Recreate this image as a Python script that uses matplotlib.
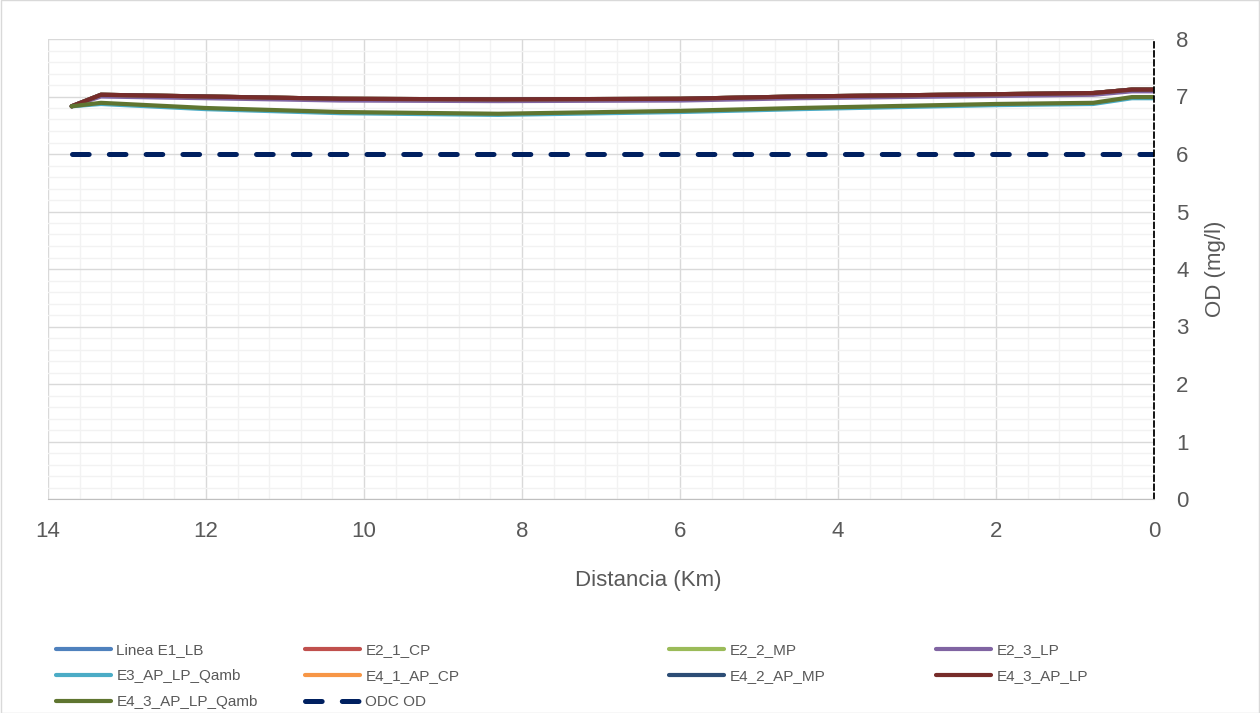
import matplotlib
matplotlib.use('Agg')
import matplotlib.pyplot as plt
import numpy as np
from matplotlib.ticker import MultipleLocator
from matplotlib.patches import Rectangle

plt.rcParams['font.family'] = ['Liberation Sans', 'DejaVu Sans']
plt.rcParams['lines.scale_dashes'] = False

# distance along the river (Km) and dissolved oxygen (mg/l)
dist = [13.7, 13.33, 12.0, 10.3, 8.3, 6.0, 4.5, 2.0, 0.77, 0.28, 0.0]
od_upper = [6.83, 7.03, 7.00, 6.96, 6.95, 6.96, 7.00, 7.04, 7.06, 7.12, 7.12]
od_lp = [6.83, 7.00, 6.97, 6.93, 6.92, 6.93, 6.97, 7.01, 7.03, 7.09, 7.09]
od_qamb = [6.83, 6.89, 6.80, 6.73, 6.70, 6.75, 6.80, 6.87, 6.89, 6.99, 6.99]
od_e3 = [6.83, 6.87, 6.78, 6.71, 6.68, 6.73, 6.78, 6.85, 6.87, 6.97, 6.97]
odc_dist = [13.7, 0.0]
odc_val = [6.0, 6.0]

series = [
    ('Linea E1_LB', od_upper, '#4f81bd'),
    ('E2_1_CP', od_upper, '#c0504d'),
    ('E2_2_MP', od_upper, '#9bbb59'),
    ('E2_3_LP', od_lp, '#8064a2'),
    ('E3_AP_LP_Qamb', od_e3, '#4bacc6'),
    ('E4_1_AP_CP', od_upper, '#f79646'),
    ('E4_2_AP_MP', od_upper, '#2c4d75'),
    ('E4_3_AP_LP', od_upper, '#772c2a'),
    ('E4_3_AP_LP_Qamb', od_qamb, '#5f7530'),
]

txt = '#595959'
fig = plt.figure(figsize=(12.6, 7.13), dpi=100)
fig.patches.append(Rectangle((0.0005, 0.0007), 0.999, 0.9986, transform=fig.transFigure,
                             fill=False, edgecolor='#d9d9d9', lw=1))
ax = fig.add_axes([48/1260, 1 - 499/713, 1106/1260, 460/713])

handles = []
for name, vals, col in series:
    h, = ax.plot(dist, vals, color=col, lw=3.0, solid_capstyle='round', label=name)
    handles.append(h)
h, = ax.plot(odc_dist, odc_val, color='#002060', lw=3.6, dashes=(12, 14.5),
             dash_capstyle='round', label='ODC OD')
handles.append(h)

ax.set_xlim(14, 0)
ax.set_ylim(0, 8)
ax.xaxis.set_major_locator(MultipleLocator(2))
ax.xaxis.set_minor_locator(MultipleLocator(0.4))
ax.yaxis.set_major_locator(MultipleLocator(1))
ax.yaxis.set_minor_locator(MultipleLocator(0.2))
ax.grid(which='major', color='#d9d9d9', lw=1)
ax.grid(which='minor', color='#f2f2f2', lw=1)
ax.set_axisbelow(True)

ax.yaxis.tick_right()
ax.tick_params(which='both', length=0, labelsize=16, colors=txt)
ax.tick_params(axis='x', pad=16)
ax.tick_params(axis='y', pad=16)

for s in ['top', 'left']:
    ax.spines[s].set_visible(False)
ax.spines['bottom'].set_color('#bfbfbf')
ax.spines['right'].set_color('black')
ax.spines['right'].set_linestyle((0, (4, 2.5)))
ax.spines['right'].set_linewidth(1.3)

ax.set_xlabel('Distancia (Km)', fontsize=16, color=txt)
ax.xaxis.set_label_coords(0.5425, -0.155)
ax.yaxis.set_label_position('right')
ax.set_ylabel('OD (mg/l)', fontsize=16, color=txt)
ax.yaxis.set_label_coords(1.046, 0.5)

# Excel style legend: four columns filled row by row
col_x = [56, 305, 669, 936]
for c in range(4):
    hs = handles[c::4]
    leg = fig.legend(handles=hs, labels=[x.get_label() for x in hs], loc='upper left',
                     bbox_to_anchor=(col_x[c] / 1260, 1 - 643 / 713), frameon=False,
                     fontsize=11, handlelength=3.6, handletextpad=0.35,
                     labelspacing=0.8, borderpad=0, borderaxespad=0, labelcolor=txt)

fig.savefig('out.png', dpi=100)
